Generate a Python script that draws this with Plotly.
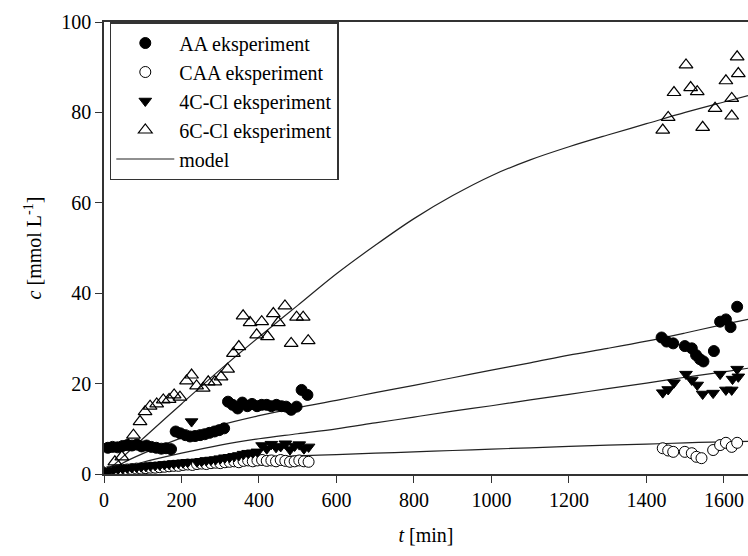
import plotly.graph_objects as go

# ---- experimental data: AA (filled circles) ----
t_aa = [10, 22, 35, 48, 60, 72, 85, 97, 110, 122, 135, 148, 160, 173,
        185, 197, 210, 222, 235, 248, 260, 272, 285, 297, 310,
        320, 332, 345, 357, 370, 382, 395, 407, 420, 432, 445, 458, 470, 483, 497,
        510, 525,
        1439, 1452, 1469, 1499, 1517, 1528, 1538, 1547, 1574, 1590, 1605, 1617, 1634]
c_aa = [5.8, 6.0, 5.9, 6.2, 6.4, 6.3, 6.5, 6.1, 6.3, 6.0, 5.8, 5.6, 5.7, 5.5,
        9.4, 9.0, 8.6, 8.3, 8.4, 8.6, 8.8, 9.1, 9.4, 9.7, 10.1,
        16.0, 15.3, 14.5, 15.8, 15.0, 15.5, 15.0, 15.3, 15.3, 15.0, 15.3, 15.0, 14.9, 14.2, 14.9,
        18.6, 17.5,
        30.2, 29.3, 28.9, 28.3, 27.8, 26.3, 25.4, 24.9, 27.2, 33.7, 34.2, 32.5, 37.0]

# ---- CAA (open circles) ----
t_caa = [0, 12, 24, 36, 48, 60, 72, 84, 96, 108, 120, 132, 144, 156, 168, 180, 192,
         204, 216, 228, 240, 252, 264, 276, 288, 300, 312, 324, 336, 348, 360, 372,
         384, 396, 408, 420, 432, 444, 456, 468, 480, 492, 504, 516, 528,
         1442, 1456, 1469, 1499, 1517, 1529, 1542, 1572, 1590, 1605, 1620, 1634]
c_caa = [0, 0.4, 0.6, 0.8, 0.9, 1.0, 1.1, 1.2, 1.2, 1.3, 1.4, 1.4, 1.5, 1.6, 1.7, 1.8, 1.8,
         2.0, 2.1, 2.0, 2.2, 2.3, 2.2, 2.4, 2.5, 2.4, 2.6, 2.7, 2.8, 2.6, 2.9, 3.0,
         2.8, 3.0, 3.1, 2.9, 3.0, 2.8, 3.1, 2.9, 2.7, 2.8, 3.0, 2.8, 2.7,
         5.7, 5.2, 4.9, 4.9, 4.6, 3.8, 3.5, 5.3, 6.4, 6.9, 6.0, 6.9]

# ---- 4C-Cl (filled down triangles) ----
t_4c = [0, 12, 24, 36, 48, 60, 72, 84, 96, 108, 120, 132, 144, 156, 168, 180, 192,
        204, 216, 226, 240, 252, 264, 276, 288, 300, 312, 324, 336, 348, 360, 372,
        384, 396, 408, 420, 432, 444, 456, 468, 480, 492, 504, 516, 528,
        1442, 1456, 1471, 1502, 1517, 1531, 1545, 1572, 1590, 1605, 1620, 1622, 1634, 1637]
c_4c = [0, 0.6, 0.9, 1.1, 1.2, 1.3, 1.4, 1.5, 1.6, 1.7, 1.8, 1.9, 2.0, 2.1, 2.2, 2.3, 2.4,
        2.5, 2.6, 11.6, 2.7, 2.8, 3.0, 3.1, 3.2, 3.4, 3.6, 3.7, 3.9, 4.1, 4.4, 4.6,
        4.7, 4.9, 6.3, 5.6, 6.6, 5.9, 6.1, 6.7, 5.4, 6.2, 6.5, 5.6, 6.0,
        18.0, 18.7, 20.2, 22.1, 20.8, 19.7, 17.7, 17.9, 22.1, 18.6, 18.6, 21.0, 23.2, 21.5]

# ---- 6C-Cl (open up triangles) ----
t_6c = [0, 28, 46, 63, 76, 93, 106, 119, 136, 153, 168, 181, 196, 213, 226, 239,
        256, 269, 286, 302, 319, 334, 348, 359, 377, 394, 407, 422, 437, 450, 467,
        483, 497, 514, 527,
        1442, 1456, 1471, 1502, 1514, 1531, 1545, 1577, 1605, 1620, 1620, 1634, 1637]
c_6c = [0.3, 2.7, 3.8, 6.4, 8.6, 11.6, 13.8, 15.0, 15.5, 16.4, 16.5, 17.5, 17.0, 20.6, 21.9, 19.5,
        19.0, 20.4, 20.4, 21.5, 23.2, 26.7, 28.2, 35.0, 33.5, 30.8, 33.7, 30.4, 35.5, 33.5, 37.2,
        28.9, 34.7, 34.7, 29.5,
        76.1, 78.9, 84.4, 90.5, 85.5, 84.6, 76.7, 80.9, 87.0, 83.1, 79.2, 92.3, 88.6]

# ---- model curves ----
t_model = [0, 50, 100, 200, 300, 400, 500, 600, 700, 800, 900, 1000,
           1100, 1200, 1300, 1400, 1500, 1600, 1662]
m_aa = [0, 2.5, 4.5, 8.0, 10.8, 12.9, 14.7, 16.3, 18.0, 19.6, 21.3, 23.0,
        24.6, 26.3, 27.8, 29.4, 31.2, 33.1, 34.2]
m_caa = [0, 1.0, 1.7, 2.6, 3.2, 3.6, 4.0, 4.3, 4.6, 4.9, 5.2, 5.5,
         5.8, 6.1, 6.4, 6.6, 6.9, 7.1, 7.2]
m_4c = [0, 1.4, 2.6, 4.6, 6.4, 7.8, 8.9, 10.0, 11.3, 12.6, 13.9, 15.1,
        16.4, 17.6, 18.9, 20.1, 21.4, 22.6, 23.4]
m_6c = [0, 3.9, 7.8, 15.5, 23.1, 30.3, 37.3, 44.3, 50.6, 56.5, 61.6, 66.0,
        69.5, 72.4, 75.0, 77.5, 80.0, 82.3, 83.7]

FONT = "Liberation Serif, Times New Roman, serif"

fig = go.Figure()

# model lines go underneath the markers
for m in [m_aa, m_caa, m_4c, m_6c]:
    fig.add_trace(go.Scatter(
        x=t_model, y=m, mode="lines", line=dict(color="#222222", width=1.2, shape="spline"),
        name="model", showlegend=False, hoverinfo="skip"))

fig.add_trace(go.Scatter(
    x=t_aa, y=c_aa, mode="markers", name="AA eksperiment", legendrank=1,
    marker=dict(symbol="circle", size=11, color="black", line=dict(color="black", width=1))))
fig.add_trace(go.Scatter(
    x=t_caa, y=c_caa, mode="markers", name="CAA eksperiment", legendrank=2,
    marker=dict(symbol="circle", size=11, color="white", line=dict(color="black", width=1))))
fig.add_trace(go.Scatter(
    x=t_4c, y=c_4c, mode="markers", name="4C-Cl eksperiment", legendrank=3,
    marker=dict(symbol="triangle-down", size=11, color="black", line=dict(color="black", width=1))))
fig.add_trace(go.Scatter(
    x=t_6c, y=c_6c, mode="markers", name="6C-Cl eksperiment", legendrank=4,
    marker=dict(symbol="triangle-up-open", size=12, color="black", line=dict(color="black", width=1.2))))

# legend entry for the model line
fig.add_trace(go.Scatter(
    x=[None], y=[None], mode="lines", name="model", legendrank=5,
    line=dict(color="#222222", width=1.2)))

axis_common = dict(
    showgrid=False, zeroline=False, showline=True, linecolor="#333333", linewidth=1.5,
    ticks="outside", ticklen=7, tickwidth=1.2, tickcolor="#333333",
    tickfont=dict(family=FONT, size=20, color="black"),
    ticklabeloverflow="allow",
)

fig.update_layout(
    width=748, height=556,
    paper_bgcolor="white", plot_bgcolor="white",
    margin=dict(l=104, r=0, t=22, b=82),
    font=dict(family=FONT, size=20, color="black"),
    xaxis=dict(range=[0, 1662], tickvals=[0, 200, 400, 600, 800, 1000, 1200, 1400, 1600],
               mirror=True,
               title=dict(text="<i>t</i> [min]", font=dict(family=FONT, size=20), standoff=18),
               **axis_common),
    yaxis=dict(range=[0, 100], tickvals=[0, 20, 40, 60, 80, 100],
               title=dict(text="<i>c</i> [mmol L<sup>-1</sup>]", font=dict(family=FONT, size=20), standoff=14),
               **axis_common),
    legend=dict(x=0.009, y=1.0, xanchor="left", yanchor="top",
                bordercolor="#333333", borderwidth=1.5, bgcolor="white",
                font=dict(family=FONT, size=20, color="black"),
                tracegroupgap=0, itemwidth=58),
)

# drop the default page margin and scrollbars so the figure fills the window exactly
fig.write_html("out.html", config={"displayModeBar": False},
               post_script="document.body.style.margin='0';document.body.style.overflow='hidden';")
